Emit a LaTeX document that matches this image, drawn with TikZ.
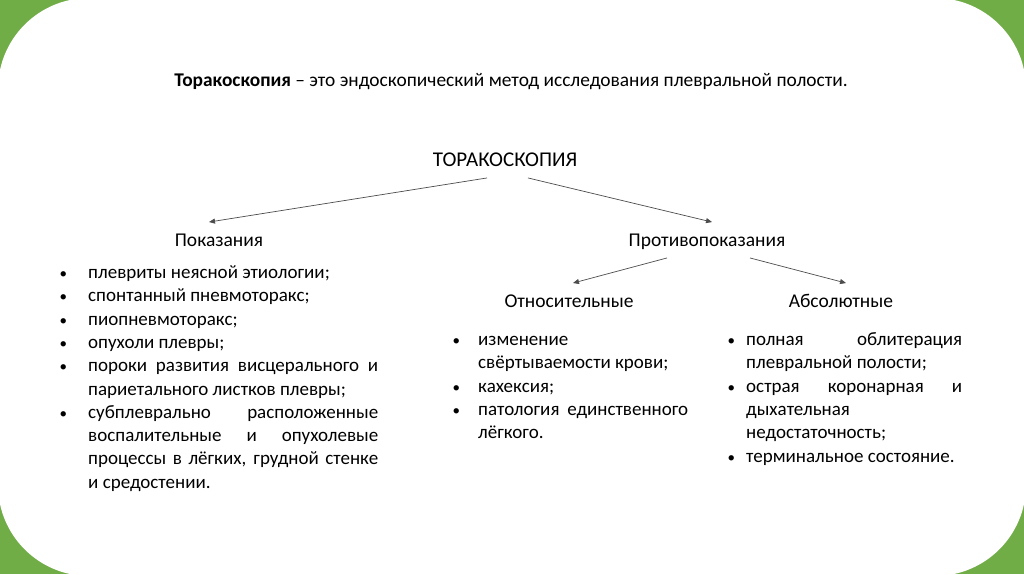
\documentclass[tikz,border=0pt]{standalone}
\usepackage{fontspec}
\setmainfont{Carlito}[WordSpace={1,1.5,2}]
\usetikzlibrary{arrows.meta, positioning}

\definecolor{slidegreen}{RGB}{112,173,71}

% list with bullets, the argument is the gap between bullet and text
\newlength{\gapwidth}
\newcommand{\dotmark}{\strut{\fontsize{15}{15}\selectfont\textbullet}}
\newenvironment{pointlist}[1]{%
  \hyphenpenalty=10000\relax
  \setlength{\gapwidth}{#1}%
  \addtolength{\gapwidth}{12pt}%
  \begin{list}{\dotmark}{%
    \setlength{\labelwidth}{12pt}%
    \setlength{\labelsep}{#1}%
    \setlength{\leftmargin}{\gapwidth}%
    \setlength{\itemsep}{0pt}\setlength{\parsep}{0pt}%
    \setlength{\topsep}{0pt}\setlength{\partopsep}{0pt}}}%
  {\end{list}}

\tikzset{
  head/.style={font=\fontsize{19.5}{24}\selectfont, text height=13.5pt, text depth=0pt, inner ysep=11pt},
  link/.style={draw=black!70, line width=0.7pt, -{Triangle[length=6pt,width=5pt]}},
  bullets/.style={inner sep=0pt, anchor=north west, align=justify, font=\fontsize{19}{23.3}\selectfont}
}

\begin{document}
\begin{tikzpicture}[x=1pt, y=1pt, auto]
  \useasboundingbox (0,0) rectangle (1024,574);
  \fill[slidegreen] (0,0) rectangle (1024,574);
  \fill[white, rounded corners=91pt] (-2,-2) rectangle (1026,576);

  \node [font=\fontsize{19.4}{23}\selectfont, text height=13pt, text depth=0pt] (title) at (511,494)
    {\textbf{Торакоскопия} – это эндоскопический метод исследования плевральной полости.};

  \node [head, font=\fontsize{21}{25}\selectfont] (root) at (505,414) {ТОРАКОСКОПИЯ};

  \node [head, node distance=80pt, below of=root, xshift=-286pt] (ind) {Показания};
  \node [head, node distance=80pt, below of=root, xshift=202pt] (contra) {Противопоказания};

  \node [head, node distance=61pt, below of=contra, xshift=-138pt] (rel) {Относительные};
  \node [head, node distance=61pt, below of=contra, xshift=134pt] (abs) {Абсолютные};

  % lists
  \node [bullets, text width=323pt] (indlist) at (55,319) {%
    \begin{pointlist}{21pt}
      \item плевриты неясной этиологии;
      \item спонтанный пневмоторакс;
      \item пиопневмоторакс;
      \item опухоли плевры;
      \item пороки развития висцерального и\linebreak париетального листков плевры;
      \item субплеврально расположенные\linebreak воспалительные и опухолевые\linebreak процессы в лёгких, грудной стенке\linebreak и средостении.
    \end{pointlist}};

  \node [bullets, text width=240pt] (rellist) at (448,252) {%
    \begin{pointlist}{18pt}
      \item изменение\linebreak свёртываемости крови;
      \item кахексия;
      \item патология единственного\linebreak лёгкого.
    \end{pointlist}};

  \node [bullets, text width=239pt] (abslist) at (723,252) {%
    \begin{pointlist}{11pt}
      \item полная облитерация\linebreak плевральной полости;
      \item острая коронарная и\linebreak дыхательная\linebreak недостаточность;
      \item терминальное состояние.
    \end{pointlist}};

  \draw [link] ([xshift=-18pt]root.south) -- ([xshift=-10pt]ind.north);
  \draw [link] ([xshift=23pt]root.south) -- ([xshift=5pt]contra.north);
  \draw [link] ([xshift=-40pt]contra.south) -- ([xshift=4pt]rel.north);
  \draw [link] ([xshift=43pt]contra.south) -- ([xshift=5pt]abs.north);
\end{tikzpicture}
\end{document}
